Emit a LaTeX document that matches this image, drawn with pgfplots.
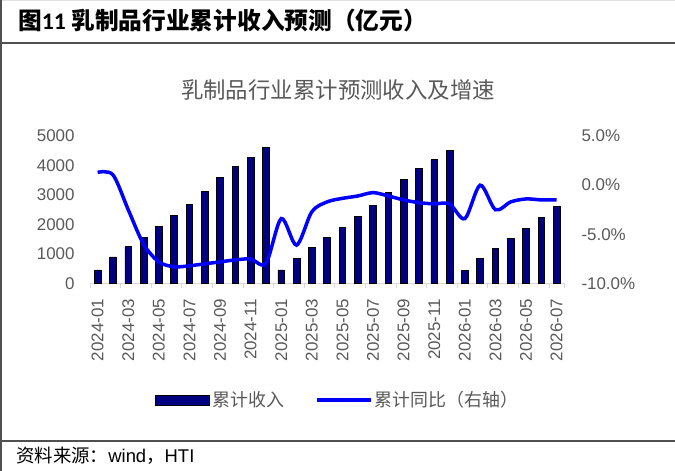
\documentclass[border=0pt]{standalone}
\usepackage{pgfplots}
\usepackage{pgfplotstable}
\pgfplotsset{compat=1.18}
\usepackage{fontspec}
\setmainfont{Liberation Sans}
\newfontfamily\cjk{Noto Sans CJK SC}
\newfontfamily\calib{Carlito}
\definecolor{barnavy}{HTML}{000080}
\definecolor{txtgray}{HTML}{595959}
\definecolor{axgray}{HTML}{D9D9D9}
\definecolor{framegray}{HTML}{505050}

\pgfplotstableread{
x rev yoy
0 460 1.3
1 900 1.05
2 1250 -2.5
3 1565 -6.0
4 1925 -7.8
5 2300 -8.3
6 2685 -8.2
7 3110 -8.0
8 3590 -7.8
9 3960 -7.6
10 4275 -7.5
11 4605 -7.95
12 458 -3.4
13 853 -6.1
14 1226 -2.7
15 1553 -1.7
16 1904 -1.34
17 2288 -1.1
18 2661 -0.76
19 3079 -1.1
20 3520 -1.5
21 3893 -1.78
22 4198 -1.9
23 4503 -1.9
24 446 -3.4
25 853 0.0
26 1192 -2.5
27 1532 -1.7
28 1870 -1.4
29 2254 -1.5
30 2627 -1.5
}\datatable

\begin{document}
\begin{tikzpicture}
\useasboundingbox (0bp,0bp) rectangle (675bp,471bp);
\draw[gray!25, line width=1bp] (0bp,470.5bp) -- (675bp,470.5bp);
\draw[framegray, line width=1.2bp] (1bp,0bp) -- (1bp,471bp);
\draw[framegray, line width=2bp] (0bp,428bp) -- (675bp,428bp);
\draw[framegray, line width=1.5bp] (0bp,30bp) -- (675bp,30bp);
\node[anchor=west, inner sep=0pt] at (18bp,451bp) {\cjk\bfseries\fontsize{23.8}{26}\selectfont 图{\calib\bfseries 11} 乳制品行业累计收入预测（亿元）};
\node[text=txtgray, inner sep=0pt] at (338bp,381bp) {\cjk\fontsize{22.5}{26}\selectfont 乳制品行业累计预测收入及增速};
\node[anchor=west, inner sep=0pt] at (16bp,15bp) {\cjk\fontsize{18.5}{22}\selectfont 资料来源：{\rmfamily wind}，{\rmfamily HTI}};

\begin{axis}[
  at={(90bp,187.5bp)}, anchor=south west, scale only axis,
  width=474.3bp, height=147.5bp,
  xmin=-0.5, xmax=30.5, ymin=0, ymax=5000,
  axis x line*=bottom, axis y line*=left,
  y axis line style={draw=none},
  x axis line style={axgray, line width=1bp, -},
  ytick={0,1000,2000,3000,4000,5000},
  yticklabels={0,1000,2000,3000,4000,5000},
  yticklabel style={font=\fontsize{17}{20}\selectfont, text=txtgray, anchor=east, inner sep=0pt, xshift=-11bp},
  ytick style={draw=none},
  xtick={0,2,...,30},
  xticklabels={2024-01,2024-03,2024-05,2024-07,2024-09,2024-11,2025-01,2025-03,2025-05,2025-07,2025-09,2025-11,2026-01,2026-03,2026-05,2026-07},
  xticklabel style={font=\fontsize{17}{20}\selectfont, text=txtgray, rotate=90, anchor=east, inner sep=0pt},
  xticklabel shift=11bp,
  major x tick style={draw=none},
  minor xtick={-0.5,1.5,...,29.5,30.5},
  minor x tick style={axgray, line width=1bp},
  minor tick length=5bp,
  tick align=outside,
  ybar, bar width=6.7bp,
]
\addplot[fill=barnavy, draw=black, line width=0.8bp] table[x=x,y=rev]{\datatable};
\end{axis}

\begin{axis}[
  at={(90bp,187.5bp)}, anchor=south west, scale only axis,
  width=474.3bp, height=147.5bp,
  xmin=-0.5, xmax=30.5, ymin=-10, ymax=5,
  axis x line=none, axis y line*=right,
  y axis line style={draw=none},
  ytick={-10,-5,0,5},
  yticklabels={-10.0\%,-5.0\%,0.0\%,5.0\%},
  yticklabel style={font=\fontsize{17}{20}\selectfont, text=txtgray, anchor=west, inner sep=0pt, xshift=17bp},
  ytick style={draw=none},
  legend style={at={(0.523,-0.79)}, anchor=center, draw=none, fill=none,
    font=\cjk\fontsize{18}{21}\selectfont, text=txtgray,
    nodes={inner sep=2.5bp},
    /tikz/every even column/.append style={column sep=28bp}},
  legend columns=2,
]
\addlegendimage{fill=barnavy, draw=black, line width=0.8bp,
  legend image code/.code={\filldraw (0bp,-5bp) rectangle (54bp,5bp);}}
\addlegendentry{累计收入}
\addplot[blue, line width=3.5bp, smooth,
  legend image code/.code={\draw (0bp,0bp) -- (54bp,0bp);}] table[x=x,y=yoy]{\datatable};
\addlegendentry{累计同比（右轴）}
\end{axis}
\end{tikzpicture}
\end{document}
